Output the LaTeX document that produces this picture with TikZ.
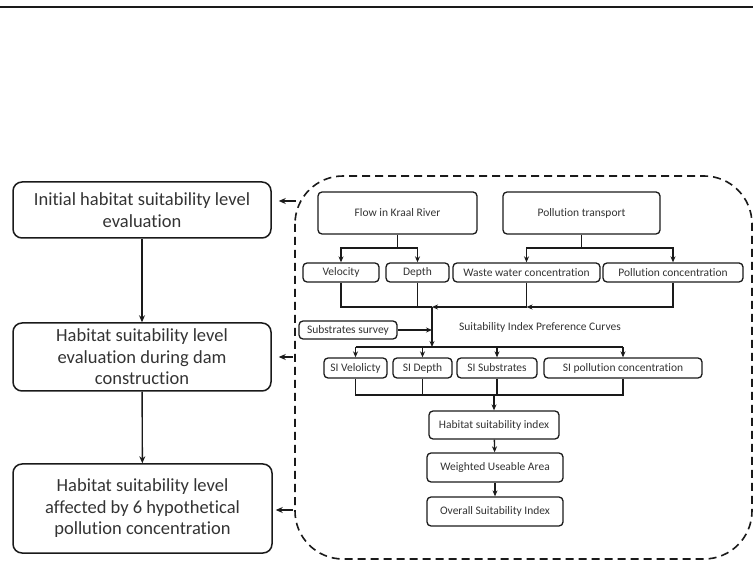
\documentclass[tikz,border=0pt]{standalone}
\usepackage{fontspec}
\setmainfont{Carlito}[Ligatures={NoCommon}]
\usetikzlibrary{arrows.meta}
\definecolor{ink}{HTML}{1A1A1A}
\definecolor{txt}{HTML}{333333}
\begin{document}
\begin{tikzpicture}[x=1pt,y=-1pt,
  bigbox/.style={draw=ink,line width=1.5pt,rounded corners=9pt,align=center,
    text=txt,inner sep=0pt,font=\fontsize{18.5}{21.5}\selectfont},
  smallbox/.style={draw=ink,line width=1.3pt,rounded corners=4pt,align=center,
    text=txt,inner sep=0pt,font=\fontsize{11.5}{13}\selectfont},
  link/.style={draw=ink,line width=1.3pt},
  arr/.style={link,-{Stealth[length=6pt,width=5pt]}},
  bigarr/.style={draw=ink,line width=1.4pt,-{Stealth[length=7pt,width=6pt]}}]
\useasboundingbox (0,0) rectangle (753,577);

% rule across the top
\draw[ink,line width=2.4pt] (0,7) -- (753,7);

% evaluation stages on the left
\node[bigbox,minimum width=258,minimum height=56] (b1) at (142,210)
  {Initial habitat suitability level\\evaluation};
\node[bigbox,minimum width=258,minimum height=68] (b2) at (142,357)
  {Habitat suitability level\\evaluation during dam\\construction};
\node[bigbox,minimum width=259,minimum height=89] (b3) at (142.5,508.5)
  {Habitat suitability level\\affected by 6 hypothetical\\pollution concentration};
\draw[bigarr] (b1) -- (b2);
\draw[bigarr] (b2) -- (b3);

% dashed frame around the index model
\draw[ink,line width=1.6pt,dash pattern=on 8pt off 5pt,rounded corners=48pt]
  (295,176) rectangle (752,559);
\coordinate (d1) at (296,201);
\coordinate (d2) at (293,357);
\coordinate (d3) at (293,510);
\draw[bigarr] (d1) -- ([xshift=7pt]d1 -| b1.east);
\draw[bigarr] (d2) -- ([xshift=7pt]d2 -| b2.east);
\draw[bigarr] (d3) -- ([xshift=3pt]d3 -| b3.east);

% sources
\node[smallbox,minimum width=159,minimum height=42] (flow) at (397.5,213) {Flow in Kraal River};
\node[smallbox,minimum width=157,minimum height=42] (poll) at (581.5,213) {Pollution transport};

% hydraulic and pollution variables
\node[smallbox,minimum width=76,minimum height=19] (vel) at (341,272.5) {Velocity};
\node[smallbox,minimum width=63,minimum height=19] (dep) at (417.5,272.5) {Depth};
\node[smallbox,minimum width=147,minimum height=19] (wwc) at (526.5,272.5) {Waste water concentration};
\node[smallbox,minimum width=140,minimum height=19] (pc) at (673,272.5) {Pollution concentration};

\coordinate (f1) at (397.5,248);
\draw[link] (flow.south) -- (f1);
\draw[arr] (f1) -| (vel.north);
\draw[arr] (f1) -| (dep.north);
\coordinate (p1) at (581.5,248);
\draw[link] (poll.south) -- (p1);
\draw[arr] (p1) -| (wwc.north);
\draw[arr] (p1) -| (pc.north);

% gathering row
\coordinate (jA) at (432,307);
\draw[link] (vel.south) |- (jA);
\draw[link] (dep.south) -- (dep.south |- jA);
\draw[link] (wwc.south) -- (wwc.south |- jA);
\draw[arr] (pc.south) |- (wwc.south |- jA);
\draw[arr] (wwc.south |- jA) -- (jA);

% substrates and preference curves
\node[smallbox,minimum width=98,minimum height=18] (sub) at (348,330) {Substrates survey};
\node[text=txt,inner sep=0pt,font=\fontsize{11.5}{13}\selectfont] (sipc) at (540,327)
  {Suitability Index Preference Curves};
\coordinate (r2) at (432,347);
\draw[arr] (sub.east) -- (sub.east -| jA);
\draw[arr] (jA) -- (r2);

% suitability indices
\node[smallbox,minimum width=63,minimum height=20] (siv) at (355.5,368) {SI Velolicty};
\node[smallbox,minimum width=59,minimum height=20] (sid) at (422.5,368) {SI Depth};
\node[smallbox,minimum width=80,minimum height=20] (sis) at (497,368) {SI Substrates};
\node[smallbox,minimum width=158,minimum height=20] (sip) at (623,368) {SI pollution concentration};
\draw[link] (siv.north |- r2) -- (sip.north |- r2);
\draw[arr] (siv.north |- r2) -- (siv.north);
\draw[arr] (sid.north |- r2) -- (sid.north);
\draw[arr] (sis.north |- r2) -- (sis.north);
\draw[arr] (sip.north |- r2) -- (sip.north);

% combination into the habitat index
\node[smallbox,minimum width=130,minimum height=28] (hsi) at (494,425) {Habitat suitability index};
\node[smallbox,minimum width=136,minimum height=29] (wua) at (495,467.5) {Weighted Useable Area};
\node[smallbox,minimum width=136,minimum height=29] (osi) at (495,511.5) {Overall Suitability Index};
\coordinate (r3) at (494,395);
\draw[link] (siv.south) |- (sip.south |- r3) -- (sip.south);
\draw[link] (sid.south) -- (sid.south |- r3);
\draw[link] (sis.south) -- (sis.south |- r3);
\draw[arr] (r3) -- (hsi.north);
\draw[arr] (hsi) -- (wua);
\draw[arr] (wua) -- (osi);
\end{tikzpicture}
\end{document}
